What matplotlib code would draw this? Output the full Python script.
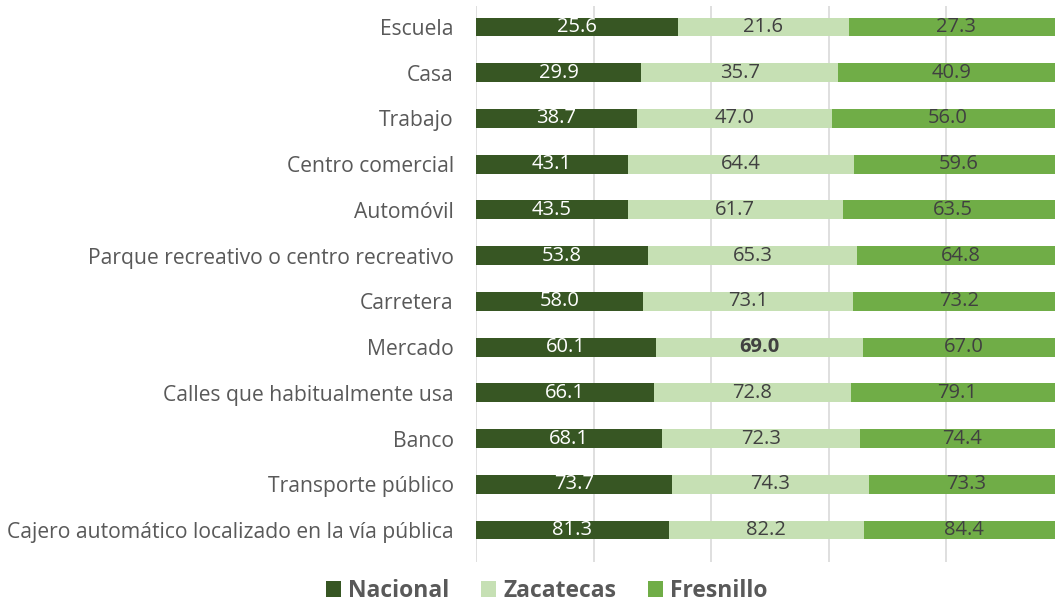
import matplotlib
matplotlib.use("Agg")
import matplotlib.pyplot as plt
import numpy as np

categories = ["Escuela", "Casa", "Trabajo", "Centro comercial", "Automóvil",
              "Parque recreativo o centro recreativo", "Carretera", "Mercado",
              "Calles que habitualmente usa", "Banco", "Transporte público",
              "Cajero automático localizado en la vía pública"]
nacional = [25.6, 29.9, 38.7, 43.1, 43.5, 53.8, 58.0, 60.1, 66.1, 68.1, 73.7, 81.3]
zacatecas = [21.6, 35.7, 47.0, 64.4, 61.7, 65.3, 73.1, 69.0, 72.8, 72.3, 74.3, 82.2]
fresnillo = [27.3, 40.9, 56.0, 59.6, 63.5, 64.8, 73.2, 67.0, 79.1, 74.4, 73.3, 84.4]
series_names = ["Nacional", "Zacatecas", "Fresnillo"]

colors = ["#375623", "#C6E0B4", "#70AD47"]
label_colors = ["white", "#404040", "#404040"]
FONT = ["Open Sans", "DejaVu Sans"]
plt.rcParams['font.family'] = FONT

fig = plt.figure(figsize=(10.55, 6.02), dpi=100)
ax = fig.add_axes([476/1055, 1-562/602, 1-476/1055, (562-6)/602])

data = np.array([nacional, zacatecas, fresnillo])
totals = data.sum(axis=0)
frac = data / totals
y = np.arange(len(categories))
left = np.zeros(len(categories))
for i in range(3):
    ax.barh(y, frac[i], left=left, height=0.415, color=colors[i],
            label=series_names[i], zorder=2)
    for j in range(len(categories)):
        cx = left[j] + frac[i][j] / 2
        bold = (i == 1 and categories[j] == "Mercado")
        ax.text(cx, y[j], f"{data[i][j]:.1f}", ha="center", va="center",
                color=label_colors[i], fontsize=14.5,
                fontweight="bold" if bold else "normal", zorder=3)
    left = left + frac[i]

ax.set_xticks([0, 0.2, 0.4, 0.6, 0.8, 1.0])
ax.set_xticklabels([])
ax.set_yticks(y)
ax.set_yticklabels(categories, fontsize=15.2, color="#595959")
ax.set_xlim(0, (1055-476)/588)
ax.set_ylim(11.70, -0.459)
ax.tick_params(axis="x", length=0)
ax.tick_params(axis="y", length=0, pad=16)
ax.grid(axis="x", color="#D9D9D9", linewidth=1.2, zorder=0)
for s in ax.spines.values():
    s.set_visible(False)

handles, labels = ax.get_legend_handles_labels()
leg = fig.legend(handles, labels, loc="center", bbox_to_anchor=(547/1055, 1-591/602),
                 ncol=3, frameon=False, handlelength=0.65, handleheight=0.65,
                 columnspacing=1.4, handletextpad=0.3,
                 prop={"size": 16.5, "weight": "bold", "family": FONT})
for t in leg.get_texts():
    t.set_color("#595959")

fig.savefig("out.png", dpi=100)
